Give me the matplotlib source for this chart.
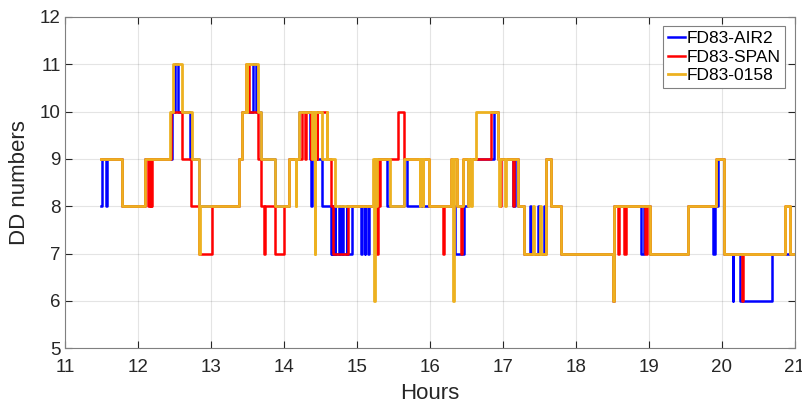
import matplotlib
matplotlib.use("Agg")
import matplotlib.pyplot as plt

plt.rcParams['font.family'] = ['Liberation Sans', 'DejaVu Sans']

# step breakpoints (hours, DD number), each value holds until next time
air2_t = [11.50, 11.505, 11.565, 11.575, 11.78, 12.10, 12.47, 12.51, 12.555, 12.71, 12.83,
          13.385, 13.43, 13.575, 13.615, 13.69, 13.88, 14.07, 14.205, 14.36, 14.37, 14.38,
          14.516, 14.64, 14.66, 14.665, 14.68, 14.685, 14.70, 14.705, 14.755, 14.765, 14.80,
          14.81, 14.86, 14.87, 14.93, 15.06, 15.07, 15.105, 15.115, 15.15, 15.16, 15.29,
          15.41, 15.65, 15.68, 15.89, 15.91, 16.35, 16.47, 16.525, 16.88, 16.93, 17.14,
          17.16, 17.21, 17.29, 17.37, 17.39, 17.48, 17.50, 17.565, 17.585, 17.665, 17.795,
          18.51, 18.525, 18.89, 18.93, 19.02, 19.54, 19.88, 19.90, 19.95, 20.03, 20.15,
          20.16, 20.255, 20.69, 21.0]
air2_v = [8, 9, 8, 9, 8, 9, 10, 11, 10, 9, 8,
          9, 10, 11, 10, 9, 8, 9, 10, 9, 8, 9,
          8, 7, 8, 7, 8, 7, 8, 7, 8, 7, 8,
          7, 8, 7, 8, 7, 8, 7, 8, 7, 8, 9,
          8, 9, 8, 9, 8, 7, 8, 9, 10, 9, 8,
          9, 8, 7, 8, 7, 8, 7, 8, 9, 8, 7,
          6, 8, 7, 8, 7, 8, 7, 8, 9, 7, 6,
          7, 6, 7, 7]

span_t = [11.50, 11.78, 12.10, 12.14, 12.15, 12.165, 12.175, 12.185, 12.195, 12.45, 12.60,
          12.725, 12.83, 13.02, 13.385, 13.43, 13.475, 13.52, 13.64, 13.685, 13.725, 13.735,
          13.88, 14.00, 14.07, 14.25, 14.29, 14.30, 14.365, 14.375, 14.45, 14.46, 14.585,
          14.64, 14.67, 14.88, 15.255, 15.29, 15.30, 15.31, 15.565, 15.65, 15.99, 16.18,
          16.20, 16.29, 16.37, 16.42, 16.44, 16.455, 16.835, 16.93, 16.96, 16.98, 17.14,
          17.15, 17.21, 17.29, 17.585, 17.665, 17.795, 18.51, 18.525, 18.575, 18.585,
          18.655, 18.69, 18.945, 18.98, 19.02, 19.54, 19.92, 20.03, 20.27, 20.29, 20.86,
          20.94, 21.0]
span_v = [9, 8, 9, 8, 9, 8, 9, 8, 9, 10, 9,
          8, 7, 8, 9, 10, 11, 10, 9, 8, 7, 8,
          7, 8, 9, 10, 9, 10, 9, 10, 9, 10, 9,
          8, 7, 8, 7, 9, 8, 9, 10, 9, 8, 7,
          8, 9, 8, 7, 8, 9, 10, 9, 8, 9, 8,
          9, 8, 7, 9, 8, 7, 6, 8, 7, 8,
          7, 8, 7, 8, 7, 8, 9, 7, 6, 7, 8,
          7, 7]

p0158_t = [11.50, 11.78, 12.10, 12.44, 12.48, 12.61, 12.735, 12.83, 12.85, 13.385, 13.43,
           13.475, 13.49, 13.50, 13.64, 13.69, 13.88, 14.07, 14.16, 14.17, 14.205, 14.39,
           14.40, 14.42, 14.43, 14.52, 14.585, 14.595, 14.70, 15.22, 15.235, 15.245, 15.26,
           15.27, 15.45, 15.65, 15.86, 15.87, 15.90, 15.91, 15.99, 16.29, 16.315, 16.325,
           16.37, 16.455, 16.52, 16.53, 16.57, 16.58, 16.63, 16.93, 16.945, 16.955, 17.03,
           17.04, 17.21, 17.29, 17.415, 17.425, 17.51, 17.52, 17.585, 17.665, 17.795,
           18.51, 18.525, 19.02, 19.54, 19.92, 20.03, 20.86, 20.94, 21.0]
p0158_v = [9, 8, 9, 10, 11, 10, 9, 7, 8, 9, 10,
           11, 10, 11, 10, 9, 8, 9, 8, 9, 10, 9,
           10, 7, 10, 9, 10, 9, 8, 9, 6, 9, 8,
           9, 8, 9, 8, 9, 8, 9, 8, 9, 6, 9,
           8, 9, 8, 9, 8, 9, 10, 9, 8, 9, 8,
           9, 8, 7, 8, 7, 8, 7, 9, 8, 7,
           6, 8, 7, 8, 9, 7, 8, 7, 7]

fig = plt.figure(figsize=(8.02, 4.03), dpi=100)
ax = fig.add_axes([0.081, 0.136, 0.910, 0.822])

ax.step(air2_t, air2_v, where='post', color=(0, 0, 1), lw=1.8, label='FD83-AIR2')
ax.step(span_t, span_v, where='post', color=(1, 0, 0), lw=1.8, label='FD83-SPAN')
ax.step(p0158_t, p0158_v, where='post', color='#EDB120', lw=2.0, label='FD83-0158')

ax.set_xlim(11, 21)
ax.set_ylim(5, 12)
ax.set_xticks(range(11, 22))
ax.set_yticks(range(5, 13))
ax.grid(True, color=(0.15, 0.15, 0.15), alpha=0.12, lw=0.8)
ax.tick_params(direction='in', top=True, right=True, length=5, labelsize=13.5,
               colors=(0.15, 0.15, 0.15))
ax.tick_params(axis='x', pad=8)
ax.tick_params(axis='y', pad=3)
for s in ax.spines.values():
    s.set_color((0.5, 0.5, 0.5))
    s.set_linewidth(0.8)

ax.set_xlabel('Hours', fontsize=16, color=(0.15, 0.15, 0.15), labelpad=5)
ax.set_ylabel('DD numbers', fontsize=16, color=(0.15, 0.15, 0.15), labelpad=7)

leg = ax.legend(loc='upper right', fontsize=12.5, fancybox=False, framealpha=1,
                edgecolor=(0.5, 0.5, 0.5), handlelength=1.0, handletextpad=0.1,
                borderpad=0.25, labelspacing=0.2, borderaxespad=0.55)
leg.get_frame().set_linewidth(0.8)

fig.savefig('out.png', dpi=100)
